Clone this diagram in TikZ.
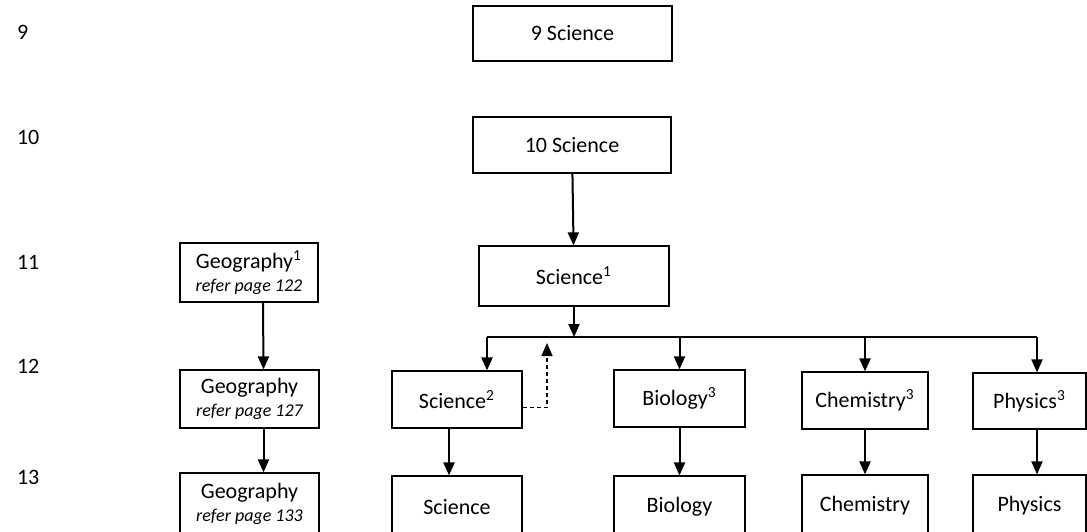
\documentclass[tikz,border=0pt]{standalone}
\usepackage{fontspec}
\setmainfont{Carlito}
\usetikzlibrary{arrows.meta}

\begin{document}
\begin{tikzpicture}[x = 0.5pt,
                    y = -0.5pt,
                    font = \fontsize{11}{12.5}\selectfont,
                    box/.style = {rectangle, draw, line width = 0.6pt, inner sep = 0pt, align = center},
                    arr/.style = {line width = 1pt, -{Triangle[width = 5.5pt, length = 6.5pt]}},
                    year/.style = {anchor = west}]

    \useasboundingbox (0,0) rectangle (1087,531);

    % year labels
    \foreach \y/\n in {32/9, 137/10, 262/11, 366/12, 477/13}
    {
        \node[year] (Y\n) at (10,\y) {\n};
    }

    \node[box, minimum width = 99.5pt, minimum height = 27.5pt] (S9)  at (572.5,33.5) {9 Science};
    \node[box, minimum width = 99pt,   minimum height = 28pt]   (S10) at (572,145)    {10 Science};
    \node[box, minimum width = 95pt,   minimum height = 30pt]   (SC1) at (574,276)    {Science\textsuperscript{1}};

    \node[box, minimum width = 69pt, minimum height = 29.5pt] (GE1) at (249,272.5) {Geography\textsuperscript{1}\\[-1pt]{\fontsize{9}{11}\selectfont\itshape refer page 122}};
    \node[box, minimum width = 69.5pt, minimum height = 29pt] (GE2) at (249.5,399) {Geography\\[-1pt]{\fontsize{9}{11}\selectfont\itshape refer page 127}};
    \node[box, minimum width = 69.5pt, minimum height = 31pt] (GE3) at (249.5,504) {Geography\\[-1pt]{\fontsize{9}{11}\selectfont\itshape refer page 133}};

    \node[box, minimum width = 65pt,   minimum height = 28.5pt] (SC2) at (457,399.5)  {Science\textsuperscript{2}};
    \node[box, minimum width = 65.5pt, minimum height = 28.5pt] (BI2) at (679.5,398.5) {Biology\textsuperscript{3}};
    \node[box, minimum width = 63pt,   minimum height = 28.5pt] (CH2) at (865,400.5)  {Chemistry\textsuperscript{3}};
    \node[box, minimum width = 56.5pt, minimum height = 28pt]   (PH2) at (1029.5,401) {Physics\textsuperscript{3}};

    \node[box, minimum width = 65pt,   minimum height = 31pt] (SC3) at (457,507)    {Science};
    \node[box, minimum width = 65.5pt, minimum height = 31pt] (BI3) at (679.5,507)  {Biology};
    \node[box, minimum width = 63pt,   minimum height = 31pt] (CH3) at (865,506)    {Chemistry};
    \node[box, minimum width = 56.5pt, minimum height = 31pt] (PH3) at (1029.5,506) {Physics};

    \coordinate (L) at (487,337);
    \coordinate (R) at (1037,337);
    \coordinate (D) at (547,343);

    \draw[line width = 1pt] (L) -- (R);
    \draw[arr] (S10) -- (SC1);
    \draw[arr] (SC1.south) -- (SC1.south |- L);
    \draw[arr] (L) -- (L |- SC2.north);
    \draw[arr] (R) -- (R |- PH2.north);
    \draw[arr, line width = 0.7pt, dash pattern = on 2pt off 1.5pt] ([yshift = -4pt]SC2.east) -| (D);

    \foreach \i in {BI2, CH2}
    {
        \draw[arr] (\i.north |- L) -- (\i.north);
    }

    \foreach \i/\j/\d in {GE1/GE2/7pt,
                          GE2/GE3/7pt,
                          SC2/SC3/-4pt,
                          BI2/BI3/0pt,
                          CH2/CH3/0pt,
                          PH2/PH3/3.75pt}
    {
        \draw[arr] ([xshift = \d]\i.south) -- ([xshift = \d]\j.north);
    }
\end{tikzpicture}
\end{document}
